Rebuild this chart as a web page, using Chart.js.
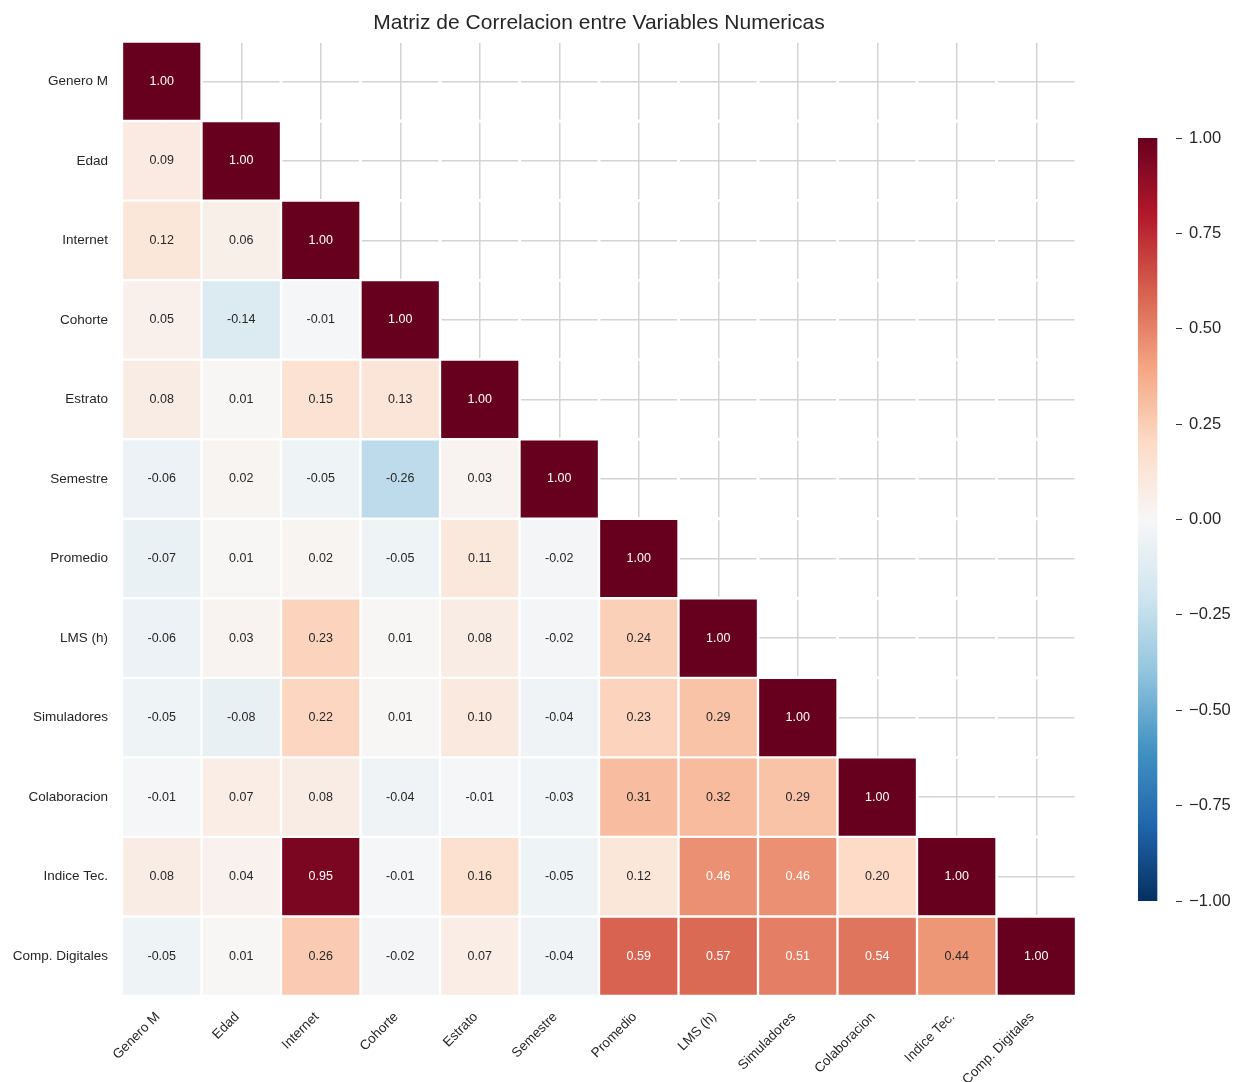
<!DOCTYPE html>
<html lang="es">
<head>
<meta charset="utf-8">
<title>Matriz de Correlacion</title>
<script src="https://cdn.jsdelivr.net/npm/chart.js@4.4.1/dist/chart.umd.min.js"></script>
<style>
  html, body { margin: 0; padding: 0; background: #fff; }
  #wrap { position: relative; width: 1236px; height: 1082px; }
  #heatmap { position: absolute; left: 0; top: 0; }
  #colorbar { position: absolute; left: 1100px; top: 0; }
</style>
</head>
<body>
<div id="wrap">
  <canvas id="heatmap" width="1100" height="1082"></canvas>
  <canvas id="colorbar" width="136" height="1082"></canvas>
</div>
<script>
// -----------------------------
// Data (lower triangle, row by row)
// -----------------------------
const variables = ["Genero M", "Edad", "Internet", "Cohorte", "Estrato", "Semestre",
  "Promedio", "LMS (h)", "Simuladores", "Colaboracion", "Indice Tec.", "Comp. Digitales"];

const rowGenero = [1.00];
const rowEdad = [0.09, 1.00];
const rowInternet = [0.12, 0.06, 1.00];
const rowCohorte = [0.05, -0.14, -0.01, 1.00];
const rowEstrato = [0.08, 0.01, 0.15, 0.13, 1.00];
const rowSemestre = [-0.06, 0.02, -0.05, -0.26, 0.03, 1.00];
const rowPromedio = [-0.07, 0.01, 0.02, -0.05, 0.11, -0.02, 1.00];
const rowLms = [-0.06, 0.03, 0.23, 0.01, 0.08, -0.02, 0.24, 1.00];
const rowSimuladores = [-0.05, -0.08, 0.22, 0.01, 0.10, -0.04, 0.23, 0.29, 1.00];
const rowColaboracion = [-0.01, 0.07, 0.08, -0.04, -0.01, -0.03, 0.31, 0.32, 0.29, 1.00];
const rowIndiceTec = [0.08, 0.04, 0.95, -0.01, 0.16, -0.05, 0.12, 0.46, 0.46, 0.20, 1.00];
const rowCompDigitales = [-0.05, 0.01, 0.26, -0.02, 0.07, -0.04, 0.59, 0.57, 0.51, 0.54, 0.44, 1.00];

const corrRows = [rowGenero, rowEdad, rowInternet, rowCohorte, rowEstrato, rowSemestre,
  rowPromedio, rowLms, rowSimuladores, rowColaboracion, rowIndiceTec, rowCompDigitales];

const colorbarTicks = [-1.00, -0.75, -0.50, -0.25, 0.00, 0.25, 0.50, 0.75, 1.00];

const TITLE = "Matriz de Correlacion entre Variables Numericas";
const FONT = "'Liberation Sans', Arial, Helvetica, sans-serif";
const DARK = "#262626";

// -----------------------------
// RdBu_r colormap
// -----------------------------
const rdbuR = ["#053061", "#2166ac", "#4393c3", "#92c5de", "#d1e5f0", "#f7f7f7",
  "#fddbc7", "#f4a582", "#d6604d", "#b2182b", "#67001f"].map(h => [
  parseInt(h.slice(1, 3), 16), parseInt(h.slice(3, 5), 16), parseInt(h.slice(5, 7), 16)]);

function cmapRgb(v) {
  const t = Math.min(1, Math.max(0, (v + 1) / 2)) * 10;
  const i = Math.min(9, Math.floor(t));
  const f = t - i;
  const a = rdbuR[i], b = rdbuR[i + 1];
  return [0, 1, 2].map(k => Math.round(a[k] + (b[k] - a[k]) * f));
}
function cmap(v) {
  const [r, g, b] = cmapRgb(v);
  return `rgb(${r},${g},${b})`;
}
// dark text on light cells, white on dark cells
function textColor(v) {
  const lin = cmapRgb(v).map(c => {
    c /= 255;
    return c <= 0.03928 ? c / 12.92 : Math.pow((c + 0.055) / 1.055, 2.4);
  });
  const lum = 0.2126 * lin[0] + 0.7152 * lin[1] + 0.0722 * lin[2];
  return lum > 0.408 ? DARK : "#ffffff";
}

// -----------------------------
// Heatmap: one floating-bar dataset per row
// -----------------------------
const datasets = corrRows.map((row, r) => ({
  label: variables[r],
  corr: row,
  data: variables.map((_, c) => (c < row.length ? [r - 0.5, r + 0.5] : null)),
  backgroundColor: ctx => {
    const v = ctx.dataset.corr[ctx.dataIndex];
    return v === undefined ? "transparent" : cmap(v);
  },
  borderColor: "#ffffff",
  borderWidth: 1.5,
  borderSkipped: false,
  grouped: false,
  barPercentage: 1,
  categoryPercentage: 1
}));

// white separators between cells, also over the grid in the empty half
const cellSeparators = {
  id: "cellSeparators",
  beforeDatasetsDraw(chart) {
    const { ctx, chartArea: a, scales: { x, y } } = chart;
    const w = x.getPixelForValue(1) - x.getPixelForValue(0);
    ctx.save();
    ctx.strokeStyle = "#ffffff";
    ctx.lineWidth = 3;
    ctx.beginPath();
    for (let i = 0; i <= variables.length; i++) {
      const px = x.getPixelForValue(0) - w / 2 + i * w;
      ctx.moveTo(px, a.top);
      ctx.lineTo(px, a.bottom);
      const py = y.getPixelForValue(i - 0.5);
      ctx.moveTo(a.left, py);
      ctx.lineTo(a.right, py);
    }
    ctx.stroke();
    ctx.restore();
  }
};

// value annotations in each cell
const cellLabels = {
  id: "cellLabels",
  afterDatasetsDraw(chart) {
    const { ctx } = chart;
    ctx.save();
    ctx.font = `12.5px ${FONT}`;
    ctx.textAlign = "center";
    ctx.textBaseline = "middle";
    chart.data.datasets.forEach((ds, di) => {
      const meta = chart.getDatasetMeta(di);
      meta.data.forEach((bar, i) => {
        const v = ds.corr[i];
        if (v === undefined) return;
        ctx.fillStyle = textColor(v);
        ctx.fillText(v.toFixed(2), bar.x, (bar.y + bar.base) / 2);
      });
    });
    ctx.restore();
  }
};

// title centred over the cell grid
const gridTitle = {
  id: "gridTitle",
  afterDraw(chart) {
    const { ctx, chartArea: a } = chart;
    ctx.save();
    ctx.font = `21px ${FONT}`;
    ctx.fillStyle = DARK;
    ctx.textAlign = "center";
    ctx.textBaseline = "middle";
    ctx.fillText(TITLE, (a.left + a.right) / 2, 23);
    ctx.restore();
  }
};

new Chart(document.getElementById("heatmap"), {
  type: "bar",
  data: { labels: variables, datasets },
  options: {
    responsive: false,
    animation: false,
    layout: { padding: { left: 0, right: 24, top: 41.5, bottom: 0 } },
    plugins: {
      legend: { display: false },
      tooltip: { enabled: false },
      title: { display: false }
    },
    scales: {
      x: {
        type: "category",
        offset: true,
        border: { display: false },
        grid: { offset: false, color: "#d4d4d4", lineWidth: 1.5, drawTicks: false },
        ticks: {
          autoSkip: false, minRotation: 45, maxRotation: 45, padding: 13, labelOffset: -4,
          color: DARK, font: { family: FONT, size: 13.5 }
        },
        afterFit: s => { s.height = 86; }
      },
      y: {
        type: "linear",
        reverse: true,
        min: -0.5,
        max: variables.length - 0.5,
        border: { display: false },
        grid: { color: "#d4d4d4", lineWidth: 1.5, drawTicks: false },
        afterBuildTicks: s => { s.ticks = variables.map((_, i) => ({ value: i })); },
        ticks: {
          padding: 14, color: DARK, font: { family: FONT, size: 13.5 },
          callback: v => variables[v]
        },
        afterFit: s => { s.width = 122; }
      }
    }
  },
  plugins: [cellSeparators, cellLabels, gridTitle]
});

// -----------------------------
// Colorbar
// -----------------------------
new Chart(document.getElementById("colorbar"), {
  type: "bar",
  data: {
    labels: [""],
    datasets: [{
      data: [[-1, 1]],
      barPercentage: 1,
      categoryPercentage: 1,
      borderWidth: 0,
      backgroundColor: ctx => {
        const area = ctx.chart.chartArea;
        if (!area) return null;
        const g = ctx.chart.ctx.createLinearGradient(0, area.bottom, 0, area.top);
        rdbuR.forEach((c, i) => g.addColorStop(i / 10, `rgb(${c[0]},${c[1]},${c[2]})`));
        return g;
      }
    }]
  },
  options: {
    responsive: false,
    animation: false,
    layout: { padding: { left: 38, top: 138, bottom: 181, right: 0 } },
    plugins: { legend: { display: false }, tooltip: { enabled: false } },
    scales: {
      x: { display: false, offset: false },
      y: {
        position: "right",
        min: -1,
        max: 1,
        border: { display: false },
        grid: { drawOnChartArea: false, drawTicks: true, tickLength: 6, color: "#333333", lineWidth: 1 },
        afterBuildTicks: s => { s.ticks = colorbarTicks.map(v => ({ value: v })); },
        ticks: {
          padding: 7, color: DARK, font: { family: FONT, size: 16.5 },
          callback: v => (v < 0 ? "\u2212" : "") + Math.abs(v).toFixed(2)
        },
        afterFit: s => { s.width = 60; }
      }
    }
  }
});
</script>
</body>
</html>
